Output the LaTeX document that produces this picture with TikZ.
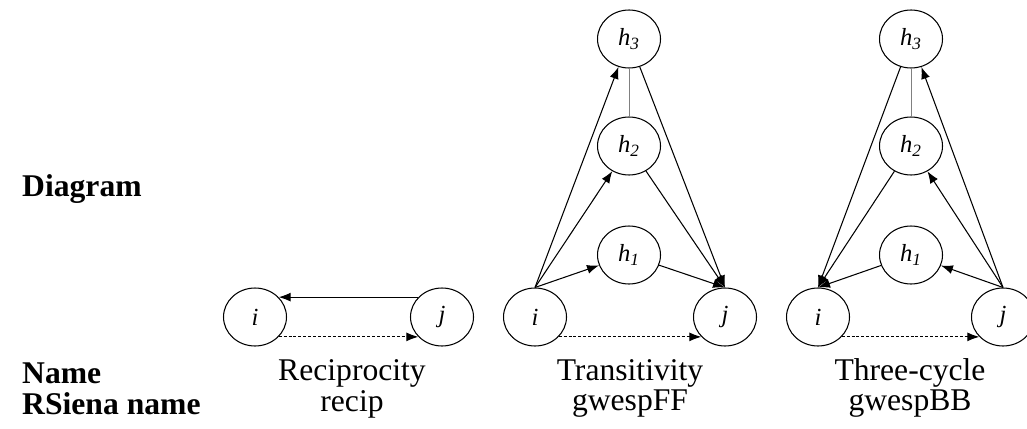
\documentclass[tikz,border=0pt]{standalone}
\usepackage{fontspec}
\setmainfont{Liberation Serif}
\usetikzlibrary{shapes.geometric,arrows.meta}

\begin{document}
\begin{tikzpicture}
		[x=0.02cm,y=-0.02cm,
		 n/.style= {ellipse,draw=black,line width=0.6pt,minimum width=1.26cm,minimum height=1.16cm,inner sep=0pt,font=\fontsize{14}{16}\selectfont\itshape},
		 e/.style= {line width=0.6pt,-{Latex[length=2.4mm,width=1.8mm]}},
		 d/.style= {e,dash pattern=on 1.7pt off 1.1pt},
		 tie/.style= {draw=gray,line width=0.4pt},
		 lab/.style= {anchor=west,font=\fontsize{18}{21}\selectfont\bfseries},
		 txt/.style= {font=\fontsize{18}{21}\selectfont}]

		\useasboundingbox (0,0) rectangle (1027,429);

		% row labels
		\node[lab] (diag) at (16,189) {Diagram};
		\node[lab] (name) at (16,373) {Name};
		\node[lab] (rsn)  at (16,404) {RSiena name};

		% reciprocity
		\node[n] (ri) at (255,317) {i};
		\node[n] (rj) at (442,317) {j};
		\draw[e] (rj.140) -- (ri.40);
		\draw[d] (ri.-40) -- (rj.-140);
		\node[txt] (rname) at (352,373) {Reciprocity};
		\node[txt] (rcode) at (352,404) {recip};

		% transitivity
		\node[n] (ti)  at (535,317) {i};
		\node[n] (tj)  at (725,317) {j};
		\node[n] (th1) at (629,255) {h\textsubscript{1}};
		\node[n] (th2) at (629,146) {h\textsubscript{2}};
		\node[n] (th3) at (629,39)  {h\textsubscript{3}};
		\draw[tie] (th3) -- (th2);
		\draw[e] (ti.north) -- (th1);
		\draw[e] (ti.north) -- (th2);
		\draw[e] (ti.north) -- (th3);
		\draw[e] (th1) -- (tj.north);
		\draw[e] (th2) -- (tj.north);
		\draw[e] (th3) -- (tj.north);
		\draw[d] (ti.-40) -- (tj.-140);
		\node[txt] (tname) at (630,373) {Transitivity};
		\node[txt] (tcode) at (630,404) {gwespFF};

		% three-cycle
		\node[n] (ci)  at (818,317)  {i};
		\node[n] (cj)  at (1003,317) {j};
		\node[n] (ch1) at (911,255) {h\textsubscript{1}};
		\node[n] (ch2) at (911,146) {h\textsubscript{2}};
		\node[n] (ch3) at (911,39)  {h\textsubscript{3}};
		\draw[tie] (ch3) -- (ch2);
		\draw[e] (cj.north) -- (ch1);
		\draw[e] (cj.north) -- (ch2);
		\draw[e] (cj.north) -- (ch3);
		\draw[e] (ch1) -- (ci.north);
		\draw[e] (ch2) -- (ci.north);
		\draw[e] (ch3) -- (ci.north);
		\draw[d] (ci.-40) -- (cj.-140);
		\node[txt] (cname) at (910,373) {Three-cycle};
		\node[txt] (ccode) at (910,404) {gwespBB};

	\end{tikzpicture}
\end{document}
